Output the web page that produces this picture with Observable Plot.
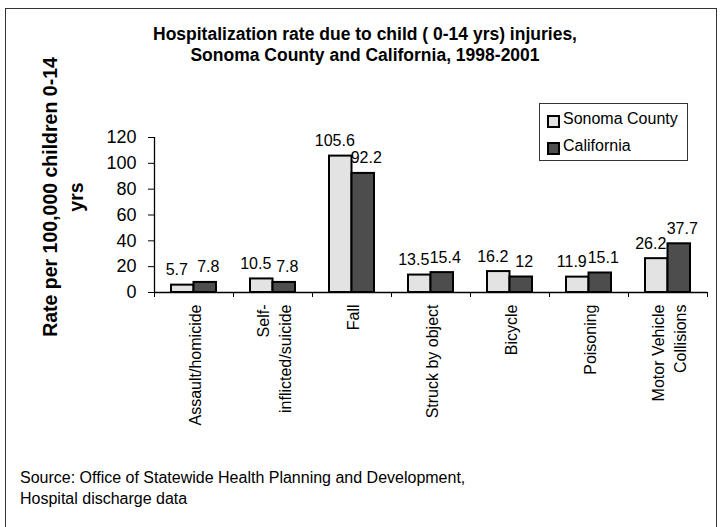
<!DOCTYPE html>
<html>
<head>
<meta charset="utf-8">
<script src="https://cdn.jsdelivr.net/npm/d3@7"></script>
<script src="https://cdn.jsdelivr.net/npm/@observablehq/plot@0.6"></script>
<style>
  body { margin: 0; background: #fff; font-family: "Liberation Sans", Arial, sans-serif; }
  #wrap { position: relative; width: 722px; height: 527px; overflow: hidden; background: #fff; }
  #wrap svg { position: absolute; left: 0; top: 0; }
  #border { position: absolute; left: 5px; top: 8px; width: 712px; height: 530px; border: 1.5px solid #333; box-sizing: border-box; }
  #title { position: absolute; left: 0; top: 24.4px; width: 730px; text-align: center; font-weight: bold; font-size: 17.5px; line-height: 21px; color: #000; }
  #ylabel { position: absolute; left: -96.7px; top: 171px; width: 320px; height: 52px; text-align: center; font-weight: bold; font-size: 19.5px; line-height: 26px; transform: rotate(-90deg); transform-origin: 50% 50%; color: #000; }
  #legend { position: absolute; left: 539px; top: 103px; width: 149px; height: 58px; border: 1px solid #333; box-sizing: border-box; background: #fff; }
  .sw { position: absolute; width: 13px; height: 13px; border: 2px solid #000; box-sizing: border-box; }
  .lt { position: absolute; font-size: 16px; line-height: 20px; white-space: nowrap; color: #000; }
  #source { position: absolute; left: 20px; top: 467px; font-size: 16px; line-height: 21px; color: #000; }
</style>
</head>
<body>
<div id="wrap">
  <div id="border"></div>
  <div id="title"></div>
  <div id="ylabel"></div>
  <div id="legend"></div>
  <div id="source"></div>
</div>
<script>
// ---- data ----
const categories = ["Assault/homicide", "Self-inflicted/suicide", "Fall", "Struck by object", "Bicycle", "Poisoning", "Motor Vehicle Collisions"];
const categoryLabels = ["Assault/homicide", "Self-\ninflicted/suicide", "Fall", "Struck by object", "Bicycle", "Poisoning", "Motor Vehicle\nCollisions"];
const sonomaCounty = [5.7, 10.5, 105.6, 13.5, 16.2, 11.9, 26.2];
const california = [7.8, 7.8, 92.2, 15.4, 12, 15.1, 37.7];
const seriesNames = ["Sonoma County", "California"];
const seriesColors = ["#e3e3e3", "#4d4d4d"];
const yTicks = [0, 20, 40, 60, 80, 100, 120];
const titleLines = ["Hospitalization rate due to child ( 0-14 yrs) injuries,", "Sonoma County and California, 1998-2001"];
const yLabelLines = ["Rate per 100,000 children 0-14", "yrs"];
const sourceLines = ["Source: Office of Statewide Health Planning and Development,", "Hospital discharge data"];

// ---- layout ----
const W = 722, H = 527;
const mL = 154, mR = 15, mT = 137, mB = 235;
const bw = (W - mL - mR) / categories.length;
const outer = 17;
const barW = (bw - 2 * outer) / 2;

const rows = categories.map((c, i) => ({cat: c, label: categoryLabels[i], son: sonomaCounty[i], cal: california[i]}));

const chart = Plot.plot({
  width: W,
  height: H,
  marginLeft: mL,
  marginRight: mR,
  marginTop: mT,
  marginBottom: mB,
  style: {fontFamily: '"Liberation Sans", Arial, sans-serif', background: "transparent", color: "#000", overflow: "visible"},
  x: {type: "band", domain: categories, padding: 0},
  y: {domain: [yTicks[0], yTicks[yTicks.length - 1]]},
  marks: [
    Plot.barY(rows, {x: "cat", y: "son", fill: seriesColors[0], stroke: "#000", strokeWidth: 2, insetLeft: outer, insetRight: outer + barW}),
    Plot.barY(rows, {x: "cat", y: "cal", fill: seriesColors[1], stroke: "#000", strokeWidth: 2, insetLeft: outer + barW, insetRight: outer}),
    Plot.ruleY([yTicks[0]], {stroke: "#000", strokeWidth: 1.3}),
    Plot.ruleX([categories[0]], {x: d => d, y1: yTicks[0], y2: yTicks[yTicks.length - 1], dx: -bw / 2, stroke: "#000", strokeWidth: 1.3}),
    Plot.axisY({ticks: yTicks, tickSize: 6, tickPadding: 12, fontSize: 18, label: null, tickFormat: d => String(d), stroke: "#000"}),
    Plot.axisX({ticks: categories, tickSize: 5, tickFormat: () => "", label: null, dx: -bw / 2, stroke: "#000"}),
    Plot.axisX({ticks: [categories[categories.length - 1]], tickSize: 5, tickFormat: () => "", label: null, dx: bw / 2, stroke: "#000"}),
    Plot.text(rows, {x: "cat", y: "son", text: d => String(d.son), dx: -barW / 2 - 6, dy: -10, lineAnchor: "bottom", fontSize: 16, fill: "#000"}),
    Plot.text(rows, {x: "cat", y: "cal", text: d => String(d.cal), dx: barW / 2 + 3, dy: -10, lineAnchor: "bottom", fontSize: 16, fill: "#000"}),
    Plot.text(rows, {x: "cat", y: () => yTicks[0], text: "label", rotate: -90, textAnchor: "end", lineAnchor: "middle", lineHeight: 1.4, dy: 12, fontSize: 16, fill: "#000"})
  ]
});
document.getElementById("wrap").insertBefore(chart, document.getElementById("border"));

// ---- texts ----
document.getElementById("title").innerHTML = titleLines.join("<br>");
document.getElementById("ylabel").innerHTML = yLabelLines.join("<br>");
document.getElementById("source").innerHTML = sourceLines.join("<br>");

const legend = document.getElementById("legend");
seriesNames.forEach((name, i) => {
  const sw = document.createElement("div");
  sw.className = "sw";
  sw.style.left = "7px";
  sw.style.top = (11 + i * 27) + "px";
  sw.style.background = seriesColors[i];
  legend.appendChild(sw);
  const t = document.createElement("div");
  t.className = "lt";
  t.style.left = "23px";
  t.style.top = (4.5 + i * 27) + "px";
  t.textContent = name;
  legend.appendChild(t);
});
</script>
</body>
</html>
